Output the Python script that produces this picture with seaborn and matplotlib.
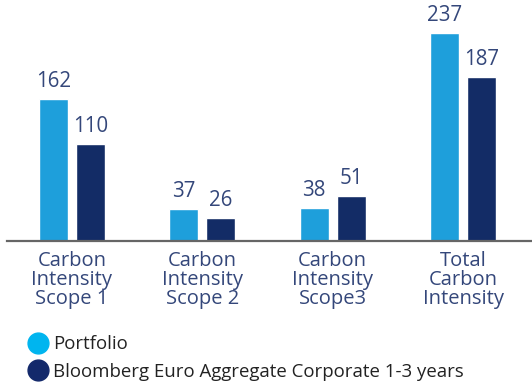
import matplotlib
matplotlib.use("Agg")
import matplotlib.pyplot as plt
from matplotlib.lines import Line2D
import pandas as pd
import seaborn as sns

categories = [
    "Carbon\nIntensity\nScope 1",
    "Carbon\nIntensity\nScope 2",
    "Carbon\nIntensity\nScope3",
    "Total\nCarbon\nIntensity",
]
series_names = ["Portfolio", "Bloomberg Euro Aggregate Corporate 1-3 years"]
portfolio = [162, 37, 38, 237]
benchmark = [110, 26, 51, 187]

bar_colors = ["#1e9fdb", "#132c66"]
legend_colors = ["#00b5ef", "#13296b"]
label_color = "#34477a"

sns.set_theme(style="white")
plt.rcParams["font.family"] = ["Open Sans", "DejaVu Sans"]

df = pd.DataFrame({
    "category": categories * 2,
    "series": [series_names[0]] * 4 + [series_names[1]] * 4,
    "value": portfolio + benchmark,
})

fig = plt.figure(figsize=(5.32, 3.85), dpi=100)
ax = fig.add_axes([7 / 532, 1 - 241 / 385, 1 - 7 / 532, 241 / 385])

sns.barplot(
    data=df, x="category", y="value", hue="series", order=categories,
    hue_order=series_names, palette=bar_colors, width=0.567, gap=0.22,
    errorbar=None, legend=False, ax=ax, saturation=1,
)

for container in ax.containers:
    ax.bar_label(container, fmt="%d", padding=5, fontsize=14.8, color=label_color)

ax.set_xlim(-0.498, 3.529)
ax.set_ylim(0, 274.5)
ax.set_xlabel("")
ax.set_ylabel("")
ax.set_yticks([])
for side in ["top", "right", "left"]:
    ax.spines[side].set_visible(False)
ax.spines["bottom"].set_color("#666666")
ax.spines["bottom"].set_linewidth(1.6)
ax.tick_params(axis="x", length=0, pad=7, labelsize=14.5, labelcolor=label_color)
for lbl in ax.get_xticklabels():
    lbl.set_multialignment("center")
    lbl.set_linespacing(0.95)

handles = [
    Line2D([], [], marker="o", linestyle="", markersize=15,
           markerfacecolor=c, markeredgecolor=c)
    for c in legend_colors
]
leg = fig.legend(
    handles, series_names, loc="upper left", frameon=False, fontsize=13.4,
    handletextpad=0.2, labelspacing=0.52, borderpad=0, handlelength=1.2,
    labelcolor="#222222",
)
leg.set_bbox_to_anchor((0.033, 1 - 326 / 385), transform=fig.transFigure)

fig.savefig("out.png", dpi=100)
